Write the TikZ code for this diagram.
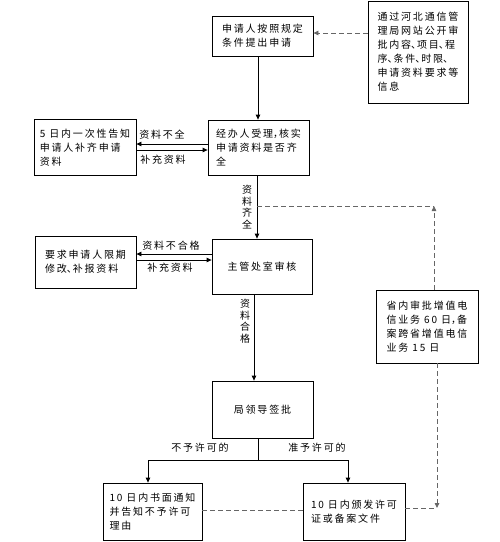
\documentclass[tikz,border=0pt]{standalone}
\usepackage{fontspec}
\newfontfamily\cjk[LetterSpace=18]{Noto Sans CJK SC}
\usetikzlibrary{arrows.meta}
\newcommand\narrowmark[1]{{\makebox[6pt][l]{#1}}}

\begin{document}
\begin{tikzpicture}[x=1pt,y=-1pt,
  box/.style={draw,line width=0.8pt,align=left,inner sep=0pt,font=\cjk\fontsize{10}{14}\selectfont},
  lbl/.style={inner sep=1pt,font=\cjk\fontsize{10}{13}\selectfont},
  vlbl/.style={inner sep=1pt,align=center,font=\cjk\fontsize{10}{11.5}\selectfont},
  arr/.style={line width=0.8pt,-{Triangle[length=5pt,width=4.5pt]}},
  link/.style={line width=0.8pt,black!60,dash pattern=on 5pt off 3pt}]

\useasboundingbox (0,0) rectangle (500,542);

% main column
\node[box,minimum width=101pt,minimum height=40pt] (apply) at (262.5,36) {申请人按照规定\\条件提出申请};
\node[box,minimum width=100pt,minimum height=102pt] (info) at (418,52) {通过河北通信管\\理局网站公开审\\批内容\narrowmark{、}项目\narrowmark{、}程\\序\narrowmark{、}条件\narrowmark{、}时限\narrowmark{、}\\申请资料要求等\\信息};
\node[box,minimum width=101pt,minimum height=55pt] (check) at (258.5,147.5) {经办人受理\narrowmark{，}核实\\申请资料是否齐\\全};
\node[box,minimum width=102pt,minimum height=56pt] (notify) at (85,147.5) {5 日内一次性告知\\申请人补齐申请\\资料};
\node[box,minimum width=100pt,minimum height=55pt] (review) at (262,266.5) {主管处室审核};
\node[box,minimum width=101pt,minimum height=52pt] (demand) at (85.5,262) {要求申请人限期\\修改\narrowmark{、}补报资料};
\node[box,minimum width=102pt,minimum height=73pt] (prov) at (427,326.5) {省内审批增值电\\信业务 60 日\narrowmark{，}备\\案跨省增值电信\\业务 15 日};
\node[box,minimum width=101pt,minimum height=57pt] (sign) at (262.5,409.5) {局领导签批};
\node[box,minimum width=99pt,minimum height=57pt] (refuse) at (152.5,511.5) {10 日内书面通知\\并告知不予许可\\理由};
\node[box,minimum width=102pt,minimum height=57pt] (grant) at (354,511.5) {10 日内颁发许可\\证或备案文件};

% labels
\node[lbl] (lackA) at (162,135) {资料不全};
\node[lbl] (suppA) at (163,160) {补充资料};
\node[vlbl] (fullL) at (247,207) {资\\料\\齐\\全};
\node[lbl] (failB) at (171,246) {资料不合格};
\node[lbl] (suppB) at (170,268) {补充资料};
\node[vlbl] (passL) at (245,321) {资\\料\\合\\格};
\node[lbl] (noL) at (200,448) {不予许可的};
\node[lbl] (yesL) at (317,448) {准予许可的};

% solid flow
\draw[arr] ([xshift=-4.5pt]apply.south) -- ([xshift=-4.5pt]apply.south |- check.north);
\draw[arr] ([xshift=-1.5pt]check.south) -- ([xshift=-1.5pt]check.south |- review.north);
\draw[arr] ([xshift=-8pt]review.south) -- ([xshift=-8pt]review.south |- sign.north);
\draw[arr] ([yshift=3.5pt]check.west) -- ([yshift=3.5pt]notify.east);
\draw[arr] ([yshift=-2.5pt]notify.east) -- ([yshift=-2.5pt]check.west);
\draw[arr] ([yshift=12.5pt]review.west) -- ([yshift=8pt]demand.east);
\draw[arr] ([yshift=2pt]demand.east) -- ([yshift=6.5pt]review.west);
\coordinate (fork) at (258,460);
\draw ([xshift=-4.5pt]sign.south) -- (fork);
\draw[arr] (fork) -| ([xshift=-4.5pt]refuse.north);
\draw[arr] (fork) -| ([xshift=-6pt]grant.north);

% dashed links
\draw[link,-{Triangle[length=5pt,width=4.5pt]}] ([yshift=19pt]info.west) -- ([yshift=3pt]apply.east);
\coordinate (tap) at (257,206);
\coordinate (corner) at (434,206);
\draw[link] (tap) -- (corner);
\draw[link,-{Triangle[length=5pt,width=4.5pt]}] (prov.north -| corner) -- (corner);
\coordinate (corner2) at (437,508);
\draw[link,-{Triangle[length=5pt,width=4.5pt]}] (prov.south -| corner2) -- (corner2);
\draw[link] (grant.east |- corner2) -- (corner2);
\draw[link] ([yshift=1.5pt]refuse.east) -- ([yshift=1.5pt]grant.west);

\end{tikzpicture}
\end{document}
